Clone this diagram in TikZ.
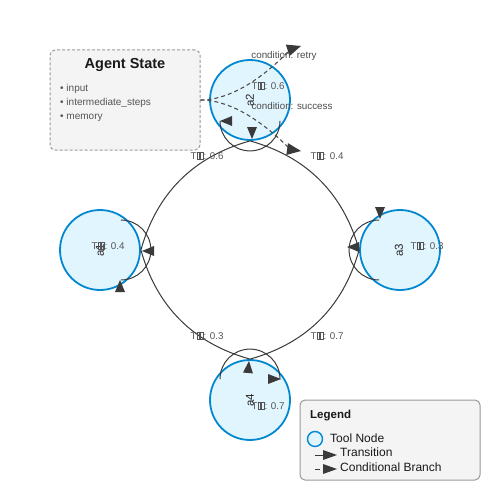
\documentclass[tikz,border=0pt]{standalone}
\usepackage{fontspec}
\setmainfont{Liberation Sans}
\definecolor{nodefill}{HTML}{E1F5FE}
\definecolor{nodeline}{HTML}{0288D1}
\definecolor{edgec}{HTML}{3A3A3A}
\definecolor{boxfill}{HTML}{F4F4F4}
\definecolor{boxline}{HTML}{9A9A9A}
\definecolor{labc}{HTML}{555555}
\newcommand\tofu{\kern0.4pt{\fboxsep=0pt\fboxrule=0.35pt\fbox{\rule{0pt}{6.8pt}\hspace{2.1pt}}}\kern0.3pt}
\newcommand\Tlab[1]{T\tofu\tofu: #1}
\newcommand\arrowtri[4]{\fill[edgec,shift={#1},rotate=-#2] (0,0) -- (-#3,#4) -- (-#3,-#4) -- cycle;}
\tikzset{
  toolnode/.style={circle,draw=nodeline,fill=nodefill,line width=1.8pt,minimum size=80pt,inner sep=0pt},
  nodetxt/.style={rotate=90,font=\fontsize{11.5}{12}\selectfont,text=black!85,inner sep=0pt},
  problab/.style={font=\fontsize{9.8}{11}\selectfont,text=labc,inner sep=0pt},
  edgeline/.style={draw=edgec,line width=1pt},
  condline/.style={draw=edgec!90,line width=1.1pt,dash pattern=on 4pt off 3pt},
  panel/.style={fill=boxfill,rounded corners=5pt,inner sep=0pt},
  itemtxt/.style={anchor=base west,font=\fontsize{10}{11}\selectfont,text=labc,inner sep=0pt},
}
\begin{document}
\begin{tikzpicture}[x=1pt,y=-1pt]
\useasboundingbox (0,0) rectangle (500,500);
\fill[white] (0,0) rectangle (500,500);

% Agent State panel
\node[panel,draw=boxline,line width=1pt,dash pattern=on 3pt off 2pt,minimum width=150pt,minimum height=100pt] (state) at (125,100) {};
\node[font=\bfseries\fontsize{14.5}{16}\selectfont,text=black!90] (sttitle) at (125,65) {Agent State};
\node[itemtxt] (it1) at (60,91.5) {• input};
\node[itemtxt] (it2) at (60,105.5) {• intermediate\_steps};
\node[itemtxt] (it3) at (60,119.5) {• memory};

% tool nodes
\node[toolnode] (n1) at (100,250) {};
\node[toolnode] (n2) at (250,100) {};
\node[toolnode] (n3) at (400,250) {};
\node[toolnode] (n4) at (250,400) {};

% main transitions
\draw[edgeline] (n2.south) .. controls (193.3,156.7) and (156.7,193.3) .. (n1.east);
\draw[edgeline] (n2.south) .. controls (306.7,156.7) and (343.3,193.3) .. (n3.west);
\draw[edgeline] (n1.east) .. controls (156.7,306.7) and (193.3,343.3) .. (n4.north);
\draw[edgeline] (n4.north) .. controls (306.7,343.3) and (343.3,306.7) .. (n3.west);

% self loops
\draw[edgeline] (n2.south) ++(30,-20) arc[start angle=0,end angle=180,radius=30];
\draw[edgeline] (n1.east) ++(-20,-30) arc[start angle=-90,end angle=90,radius=30];
\draw[edgeline] (n3.west) ++(20,-30) arc[start angle=270,end angle=90,radius=30];
\draw[edgeline] (n4.north) ++(-30,20) arc[start angle=180,end angle=360,radius=30];

% arrowheads on loops
\arrowtri{(220,121)}{180}{12}{5}
\arrowtri{(252,139)}{90}{12}{5}
\arrowtri{(142,251)}{180}{12}{5}
\arrowtri{(120,280)}{270}{12}{5}
\arrowtri{(380,219)}{90}{12}{5}
\arrowtri{(347,247)}{180}{12}{5}
\arrowtri{(249,361)}{275}{12}{5}
\arrowtri{(281,379)}{0}{13}{5}

% conditional branches
\coordinate (retryend) at (289,51);
\coordinate (succend) at (289,148);
\draw[condline] (state.east) .. controls (226.7,100) and (257.3,83.3) .. (retryend);
\draw[condline] (state.east) .. controls (226.7,100) and (256.7,116) .. (succend);
\arrowtri{(301,46)}{342}{14}{6}
\arrowtri{(301,151)}{8}{14}{6}
\node[font=\fontsize{9.8}{11}\selectfont,text=black!70,inner sep=0pt] (lretry) at (284,56) {condition: retry};
\node[font=\fontsize{9.8}{11}\selectfont,text=black!70,inner sep=0pt] (lsucc) at (292,106) {condition: success};

% node labels
\node[nodetxt] (t1) at (100,250) {a1};
\node[nodetxt] (t2) at (250,100) {a2};
\node[nodetxt] (t3) at (399,250) {a3};
\node[nodetxt] (t4) at (250,400) {a4};
\node[problab] (p1) at (108,246) {\Tlab{0.4}};
\node[problab] (p2) at (268,86) {\Tlab{0.6}};
\node[problab] (p3) at (427,246) {\Tlab{0.3}};
\node[problab] (p4) at (268,406) {\Tlab{0.7}};

% edge labels
\node[problab] (e1) at (207,156) {\Tlab{0.6}};
\node[problab] (e2) at (327,156) {\Tlab{0.4}};
\node[problab] (e3) at (207,336) {\Tlab{0.3}};
\node[problab] (e4) at (327,336) {\Tlab{0.7}};

% legend
\node[panel,draw=boxline,line width=1pt,minimum width=180pt,minimum height=80pt] (legend) at (390,440) {};
\node[anchor=west,font=\bfseries\fontsize{11.5}{13}\selectfont,text=black!90,inner sep=0pt] (legtitle) at (310,416) {Legend};
\node[circle,draw=nodeline,fill=nodefill,line width=1.4pt,minimum size=15pt,inner sep=0pt] (legnode) at (315,439) {};
\node[anchor=west,font=\fontsize{12}{13}\selectfont,text=black!90,inner sep=0pt] (legt1) at (330,438) {Tool Node};
\coordinate (lt0) at (315,455);
\coordinate (lt1) at (324,455);
\draw[edgeline] (lt0) -- (lt1);
\arrowtri{(337,455)}{0}{14}{5}
\node[anchor=west,font=\fontsize{12}{13}\selectfont,text=black!90,inner sep=0pt] (legt2) at (340,452) {Transition};
\coordinate (lc0) at (315,469);
\coordinate (lc1) at (320,469);
\draw[edgeline] (lc0) -- (lc1);
\arrowtri{(337,469)}{0}{14}{5}
\node[anchor=west,font=\fontsize{12}{13}\selectfont,text=black!90,inner sep=0pt] (legt3) at (340,467) {Conditional Branch};
\end{tikzpicture}
\end{document}
